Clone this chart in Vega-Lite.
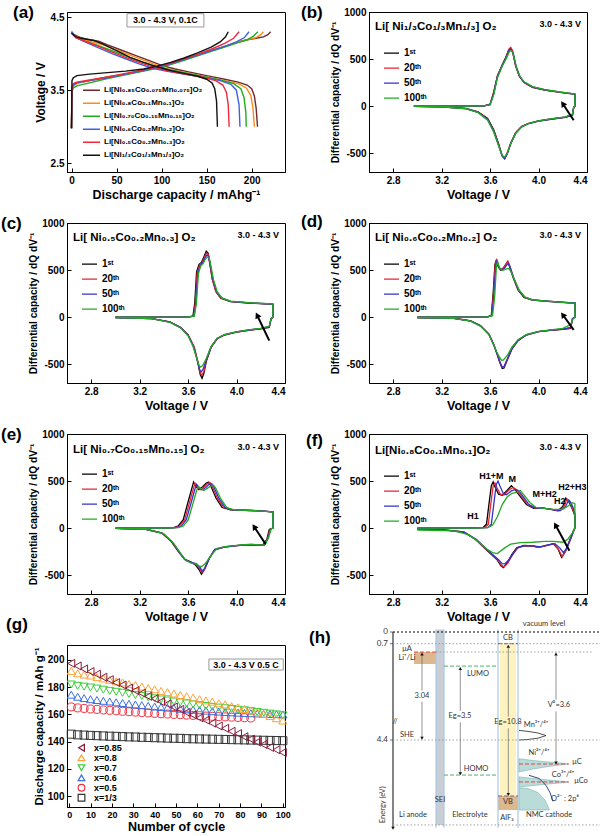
{
"$schema": "https://vega.github.io/schema/vega-lite/v6.json",
"padding": {"left": 0, "top": 3, "right": 0, "bottom": 0},
"background": "white",
"config": {
 "font": "Liberation Sans, Arial, sans-serif",
 "view": {"stroke": "#000", "strokeWidth": 1},
 "axis": {"grid": false, "domainColor": "#000", "tickColor": "#000", "labelColor": "#000", "titleColor": "#000", "labelFontSize": 10, "labelFontWeight": "bold", "titleFontSize": 12.5, "titleFontWeight": "bold", "tickSize": -4, "labelPadding": 7, "titlePadding": 3, "labelOverlap": false},
 "legend": {"labelFontWeight": "bold", "labelColor": "#000"},
 "text": {"color": "#000"},
 "line": {"strokeWidth": 1.3}
},
"datasets": {
 "a": [
  {"m":"0.85","b":"c","x":0,"y":2.98},{"m":"0.85","b":"c","x":0.5,"y":3.5},{"m":"0.85","b":"c","x":2,"y":3.57},{"m":"0.85","b":"c","x":6,"y":3.6},{"m":"0.85","b":"c","x":20,"y":3.63},{"m":"0.85","b":"c","x":40,"y":3.68},{"m":"0.85","b":"c","x":60,"y":3.72},{"m":"0.85","b":"c","x":80,"y":3.77},{"m":"0.85","b":"c","x":95,"y":3.81},{"m":"0.85","b":"c","x":110,"y":3.86},{"m":"0.85","b":"c","x":125,"y":3.92},{"m":"0.85","b":"c","x":140,"y":3.98},{"m":"0.85","b":"c","x":155,"y":4.04},{"m":"0.85","b":"c","x":170,"y":4.1},{"m":"0.85","b":"c","x":185,"y":4.16},{"m":"0.85","b":"c","x":195,"y":4.19},{"m":"0.85","b":"c","x":205,"y":4.21},{"m":"0.85","b":"c","x":213,"y":4.23},{"m":"0.85","b":"c","x":218,"y":4.26},{"m":"0.85","b":"c","x":221,"y":4.3},
  {"m":"0.85","b":"d","x":0,"y":4.3},{"m":"0.85","b":"d","x":3,"y":4.26},{"m":"0.85","b":"d","x":10,"y":4.22},{"m":"0.85","b":"d","x":20,"y":4.19},{"m":"0.85","b":"d","x":30,"y":4.17},{"m":"0.85","b":"d","x":40,"y":4.12},{"m":"0.85","b":"d","x":55,"y":4.05},{"m":"0.85","b":"d","x":70,"y":3.98},{"m":"0.85","b":"d","x":85,"y":3.91},{"m":"0.85","b":"d","x":100,"y":3.84},{"m":"0.85","b":"d","x":115,"y":3.79},{"m":"0.85","b":"d","x":130,"y":3.75},{"m":"0.85","b":"d","x":150,"y":3.7},{"m":"0.85","b":"d","x":170,"y":3.65},{"m":"0.85","b":"d","x":185,"y":3.61},{"m":"0.85","b":"d","x":195,"y":3.57},{"m":"0.85","b":"d","x":200,"y":3.52},{"m":"0.85","b":"d","x":203,"y":3.42},{"m":"0.85","b":"d","x":205,"y":3.25},{"m":"0.85","b":"d","x":206.5,"y":3.0},
  {"m":"0.8","b":"c","x":0,"y":2.98},{"m":"0.8","b":"c","x":0.5,"y":3.5},{"m":"0.8","b":"c","x":2,"y":3.56},{"m":"0.8","b":"c","x":6,"y":3.59},{"m":"0.8","b":"c","x":20,"y":3.63},{"m":"0.8","b":"c","x":40,"y":3.68},{"m":"0.8","b":"c","x":60,"y":3.72},{"m":"0.8","b":"c","x":80,"y":3.77},{"m":"0.8","b":"c","x":95,"y":3.81},{"m":"0.8","b":"c","x":110,"y":3.86},{"m":"0.8","b":"c","x":125,"y":3.92},{"m":"0.8","b":"c","x":140,"y":3.98},{"m":"0.8","b":"c","x":155,"y":4.04},{"m":"0.8","b":"c","x":170,"y":4.1},{"m":"0.8","b":"c","x":185,"y":4.16},{"m":"0.8","b":"c","x":195,"y":4.19},{"m":"0.8","b":"c","x":205,"y":4.22},{"m":"0.8","b":"c","x":210,"y":4.26},{"m":"0.8","b":"c","x":213,"y":4.3},
  {"m":"0.8","b":"d","x":0,"y":4.29},{"m":"0.8","b":"d","x":3,"y":4.25},{"m":"0.8","b":"d","x":10,"y":4.21},{"m":"0.8","b":"d","x":20,"y":4.17},{"m":"0.8","b":"d","x":35,"y":4.12},{"m":"0.8","b":"d","x":50,"y":4.05},{"m":"0.8","b":"d","x":65,"y":3.98},{"m":"0.8","b":"d","x":80,"y":3.91},{"m":"0.8","b":"d","x":95,"y":3.84},{"m":"0.8","b":"d","x":110,"y":3.78},{"m":"0.8","b":"d","x":130,"y":3.73},{"m":"0.8","b":"d","x":150,"y":3.68},{"m":"0.8","b":"d","x":170,"y":3.63},{"m":"0.8","b":"d","x":185,"y":3.59},{"m":"0.8","b":"d","x":194,"y":3.53},{"m":"0.8","b":"d","x":199,"y":3.43},{"m":"0.8","b":"d","x":201.5,"y":3.25},{"m":"0.8","b":"d","x":203,"y":3.0},
  {"m":"0.7","b":"c","x":0,"y":2.98},{"m":"0.7","b":"c","x":0.5,"y":3.48},{"m":"0.7","b":"c","x":2,"y":3.53},{"m":"0.7","b":"c","x":6,"y":3.56},{"m":"0.7","b":"c","x":20,"y":3.6},{"m":"0.7","b":"c","x":40,"y":3.66},{"m":"0.7","b":"c","x":60,"y":3.71},{"m":"0.7","b":"c","x":80,"y":3.76},{"m":"0.7","b":"c","x":95,"y":3.8},{"m":"0.7","b":"c","x":110,"y":3.85},{"m":"0.7","b":"c","x":125,"y":3.91},{"m":"0.7","b":"c","x":140,"y":3.97},{"m":"0.7","b":"c","x":155,"y":4.03},{"m":"0.7","b":"c","x":170,"y":4.09},{"m":"0.7","b":"c","x":185,"y":4.15},{"m":"0.7","b":"c","x":195,"y":4.19},{"m":"0.7","b":"c","x":202,"y":4.24},{"m":"0.7","b":"c","x":207,"y":4.3},
  {"m":"0.7","b":"d","x":0,"y":4.29},{"m":"0.7","b":"d","x":5,"y":4.22},{"m":"0.7","b":"d","x":15,"y":4.17},{"m":"0.7","b":"d","x":30,"y":4.11},{"m":"0.7","b":"d","x":45,"y":4.04},{"m":"0.7","b":"d","x":60,"y":3.97},{"m":"0.7","b":"d","x":75,"y":3.9},{"m":"0.7","b":"d","x":90,"y":3.84},{"m":"0.7","b":"d","x":105,"y":3.79},{"m":"0.7","b":"d","x":125,"y":3.74},{"m":"0.7","b":"d","x":145,"y":3.69},{"m":"0.7","b":"d","x":165,"y":3.64},{"m":"0.7","b":"d","x":180,"y":3.59},{"m":"0.7","b":"d","x":188,"y":3.52},{"m":"0.7","b":"d","x":191.5,"y":3.4},{"m":"0.7","b":"d","x":193.5,"y":3.2},{"m":"0.7","b":"d","x":194,"y":3.0},
  {"m":"0.6","b":"c","x":0,"y":2.98},{"m":"0.6","b":"c","x":0.5,"y":3.52},{"m":"0.6","b":"c","x":2,"y":3.57},{"m":"0.6","b":"c","x":6,"y":3.6},{"m":"0.6","b":"c","x":20,"y":3.63},{"m":"0.6","b":"c","x":40,"y":3.67},{"m":"0.6","b":"c","x":60,"y":3.72},{"m":"0.6","b":"c","x":80,"y":3.77},{"m":"0.6","b":"c","x":95,"y":3.81},{"m":"0.6","b":"c","x":110,"y":3.86},{"m":"0.6","b":"c","x":125,"y":3.92},{"m":"0.6","b":"c","x":140,"y":3.98},{"m":"0.6","b":"c","x":155,"y":4.04},{"m":"0.6","b":"c","x":170,"y":4.1},{"m":"0.6","b":"c","x":183,"y":4.16},{"m":"0.6","b":"c","x":192,"y":4.22},{"m":"0.6","b":"c","x":197,"y":4.3},
  {"m":"0.6","b":"d","x":0,"y":4.3},{"m":"0.6","b":"d","x":5,"y":4.22},{"m":"0.6","b":"d","x":15,"y":4.16},{"m":"0.6","b":"d","x":30,"y":4.08},{"m":"0.6","b":"d","x":45,"y":4.0},{"m":"0.6","b":"d","x":60,"y":3.93},{"m":"0.6","b":"d","x":75,"y":3.86},{"m":"0.6","b":"d","x":90,"y":3.8},{"m":"0.6","b":"d","x":105,"y":3.76},{"m":"0.6","b":"d","x":125,"y":3.72},{"m":"0.6","b":"d","x":145,"y":3.68},{"m":"0.6","b":"d","x":165,"y":3.63},{"m":"0.6","b":"d","x":177,"y":3.58},{"m":"0.6","b":"d","x":183,"y":3.5},{"m":"0.6","b":"d","x":186,"y":3.3},{"m":"0.6","b":"d","x":187,"y":3.0},
  {"m":"0.5","b":"c","x":0,"y":2.98},{"m":"0.5","b":"c","x":0.5,"y":3.54},{"m":"0.5","b":"c","x":2,"y":3.59},{"m":"0.5","b":"c","x":6,"y":3.61},{"m":"0.5","b":"c","x":20,"y":3.64},{"m":"0.5","b":"c","x":40,"y":3.68},{"m":"0.5","b":"c","x":60,"y":3.73},{"m":"0.5","b":"c","x":80,"y":3.78},{"m":"0.5","b":"c","x":95,"y":3.82},{"m":"0.5","b":"c","x":110,"y":3.87},{"m":"0.5","b":"c","x":125,"y":3.93},{"m":"0.5","b":"c","x":140,"y":3.99},{"m":"0.5","b":"c","x":155,"y":4.06},{"m":"0.5","b":"c","x":170,"y":4.14},{"m":"0.5","b":"c","x":180,"y":4.21},{"m":"0.5","b":"c","x":186,"y":4.3},
  {"m":"0.5","b":"d","x":0,"y":4.28},{"m":"0.5","b":"d","x":5,"y":4.22},{"m":"0.5","b":"d","x":15,"y":4.17},{"m":"0.5","b":"d","x":30,"y":4.1},{"m":"0.5","b":"d","x":45,"y":4.02},{"m":"0.5","b":"d","x":60,"y":3.95},{"m":"0.5","b":"d","x":75,"y":3.88},{"m":"0.5","b":"d","x":90,"y":3.82},{"m":"0.5","b":"d","x":105,"y":3.77},{"m":"0.5","b":"d","x":125,"y":3.72},{"m":"0.5","b":"d","x":145,"y":3.68},{"m":"0.5","b":"d","x":160,"y":3.63},{"m":"0.5","b":"d","x":168,"y":3.57},{"m":"0.5","b":"d","x":172,"y":3.47},{"m":"0.5","b":"d","x":174,"y":3.3},{"m":"0.5","b":"d","x":175,"y":3.0},
  {"m":"1/3","b":"c","x":0,"y":2.98},{"m":"1/3","b":"c","x":0.5,"y":3.63},{"m":"1/3","b":"c","x":2,"y":3.67},{"m":"1/3","b":"c","x":6,"y":3.7},{"m":"1/3","b":"c","x":20,"y":3.72},{"m":"1/3","b":"c","x":40,"y":3.74},{"m":"1/3","b":"c","x":60,"y":3.76},{"m":"1/3","b":"c","x":80,"y":3.79},{"m":"1/3","b":"c","x":95,"y":3.83},{"m":"1/3","b":"c","x":110,"y":3.88},{"m":"1/3","b":"c","x":125,"y":3.94},{"m":"1/3","b":"c","x":140,"y":4.01},{"m":"1/3","b":"c","x":155,"y":4.09},{"m":"1/3","b":"c","x":165,"y":4.16},{"m":"1/3","b":"c","x":171,"y":4.23},{"m":"1/3","b":"c","x":174,"y":4.3},
  {"m":"1/3","b":"d","x":0,"y":4.28},{"m":"1/3","b":"d","x":5,"y":4.23},{"m":"1/3","b":"d","x":15,"y":4.2},{"m":"1/3","b":"d","x":25,"y":4.18},{"m":"1/3","b":"d","x":35,"y":4.13},{"m":"1/3","b":"d","x":50,"y":4.04},{"m":"1/3","b":"d","x":65,"y":3.95},{"m":"1/3","b":"d","x":80,"y":3.88},{"m":"1/3","b":"d","x":95,"y":3.82},{"m":"1/3","b":"d","x":110,"y":3.77},{"m":"1/3","b":"d","x":125,"y":3.73},{"m":"1/3","b":"d","x":140,"y":3.69},{"m":"1/3","b":"d","x":150,"y":3.65},{"m":"1/3","b":"d","x":156,"y":3.6},{"m":"1/3","b":"d","x":159,"y":3.52},{"m":"1/3","b":"d","x":161,"y":3.35},{"m":"1/3","b":"d","x":162,"y":3.0}
 ],
 "b": [
  {"c":"1st","v":2.97,"q":0},{"c":"1st","v":3.4,"q":0},{"c":"1st","v":3.55,"q":3},{"c":"1st","v":3.6,"q":20},{"c":"1st","v":3.63,"q":150},{"c":"1st","v":3.66,"q":320},{"c":"1st","v":3.7,"q":440},{"c":"1st","v":3.73,"q":520},{"c":"1st","v":3.755,"q":600},{"c":"1st","v":3.77,"q":615},{"c":"1st","v":3.785,"q":580},{"c":"1st","v":3.81,"q":430},{"c":"1st","v":3.84,"q":320},{"c":"1st","v":3.88,"q":250},{"c":"1st","v":3.95,"q":200},{"c":"1st","v":4.05,"q":170},{"c":"1st","v":4.18,"q":145},{"c":"1st","v":4.29,"q":128},{"c":"1st","v":4.3,"q":125},{"c":"1st","v":4.3,"q":0},{"c":"1st","v":4.29,"q":-15},{"c":"1st","v":4.28,"q":-100},{"c":"1st","v":4.22,"q":-120},{"c":"1st","v":4.1,"q":-140},{"c":"1st","v":4.0,"q":-160},{"c":"1st","v":3.92,"q":-185},{"c":"1st","v":3.86,"q":-220},{"c":"1st","v":3.81,"q":-290},{"c":"1st","v":3.77,"q":-400},{"c":"1st","v":3.74,"q":-510},{"c":"1st","v":3.72,"q":-560},{"c":"1st","v":3.7,"q":-530},{"c":"1st","v":3.67,"q":-400},{"c":"1st","v":3.63,"q":-250},{"c":"1st","v":3.58,"q":-130},{"c":"1st","v":3.5,"q":-60},{"c":"1st","v":3.4,"q":-25},{"c":"1st","v":3.2,"q":-8},{"c":"1st","v":2.98,"q":-3},
  {"c":"20th","v":2.97,"q":0},{"c":"20th","v":3.4,"q":0},{"c":"20th","v":3.55,"q":3},{"c":"20th","v":3.6,"q":18},{"c":"20th","v":3.63,"q":140},{"c":"20th","v":3.66,"q":315},{"c":"20th","v":3.7,"q":435},{"c":"20th","v":3.73,"q":515},{"c":"20th","v":3.755,"q":605},{"c":"20th","v":3.77,"q":625},{"c":"20th","v":3.785,"q":590},{"c":"20th","v":3.81,"q":435},{"c":"20th","v":3.84,"q":322},{"c":"20th","v":3.88,"q":252},{"c":"20th","v":3.95,"q":202},{"c":"20th","v":4.05,"q":172},{"c":"20th","v":4.18,"q":146},{"c":"20th","v":4.29,"q":129},{"c":"20th","v":4.3,"q":126},{"c":"20th","v":4.3,"q":0},{"c":"20th","v":4.29,"q":-12},{"c":"20th","v":4.28,"q":-95},{"c":"20th","v":4.22,"q":-118},{"c":"20th","v":4.1,"q":-138},{"c":"20th","v":4.0,"q":-158},{"c":"20th","v":3.92,"q":-182},{"c":"20th","v":3.86,"q":-215},{"c":"20th","v":3.81,"q":-282},{"c":"20th","v":3.77,"q":-392},{"c":"20th","v":3.74,"q":-500},{"c":"20th","v":3.72,"q":-548},{"c":"20th","v":3.7,"q":-528},{"c":"20th","v":3.67,"q":-410},{"c":"20th","v":3.63,"q":-262},{"c":"20th","v":3.58,"q":-140},{"c":"20th","v":3.5,"q":-64},{"c":"20th","v":3.4,"q":-26},{"c":"20th","v":3.2,"q":-8},{"c":"20th","v":2.98,"q":-3},
  {"c":"50th","v":2.97,"q":0},{"c":"50th","v":3.4,"q":0},{"c":"50th","v":3.55,"q":3},{"c":"50th","v":3.6,"q":16},{"c":"50th","v":3.63,"q":130},{"c":"50th","v":3.66,"q":310},{"c":"50th","v":3.7,"q":430},{"c":"50th","v":3.73,"q":510},{"c":"50th","v":3.755,"q":590},{"c":"50th","v":3.772,"q":600},{"c":"50th","v":3.79,"q":565},{"c":"50th","v":3.815,"q":420},{"c":"50th","v":3.845,"q":315},{"c":"50th","v":3.88,"q":255},{"c":"50th","v":3.95,"q":205},{"c":"50th","v":4.05,"q":174},{"c":"50th","v":4.18,"q":148},{"c":"50th","v":4.29,"q":130},{"c":"50th","v":4.3,"q":127},{"c":"50th","v":4.3,"q":0},{"c":"50th","v":4.29,"q":-10},{"c":"50th","v":4.28,"q":-90},{"c":"50th","v":4.22,"q":-116},{"c":"50th","v":4.1,"q":-137},{"c":"50th","v":4.0,"q":-157},{"c":"50th","v":3.92,"q":-182},{"c":"50th","v":3.86,"q":-218},{"c":"50th","v":3.81,"q":-288},{"c":"50th","v":3.77,"q":-398},{"c":"50th","v":3.74,"q":-510},{"c":"50th","v":3.72,"q":-555},{"c":"50th","v":3.7,"q":-532},{"c":"50th","v":3.67,"q":-418},{"c":"50th","v":3.63,"q":-270},{"c":"50th","v":3.58,"q":-145},{"c":"50th","v":3.5,"q":-66},{"c":"50th","v":3.4,"q":-27},{"c":"50th","v":3.2,"q":-8},{"c":"50th","v":2.98,"q":-3},
  {"c":"100th","v":2.97,"q":0},{"c":"100th","v":3.4,"q":0},{"c":"100th","v":3.55,"q":2},{"c":"100th","v":3.6,"q":14},{"c":"100th","v":3.63,"q":120},{"c":"100th","v":3.66,"q":300},{"c":"100th","v":3.7,"q":425},{"c":"100th","v":3.735,"q":510},{"c":"100th","v":3.76,"q":580},{"c":"100th","v":3.775,"q":590},{"c":"100th","v":3.79,"q":560},{"c":"100th","v":3.815,"q":425},{"c":"100th","v":3.845,"q":318},{"c":"100th","v":3.88,"q":258},{"c":"100th","v":3.95,"q":208},{"c":"100th","v":4.05,"q":176},{"c":"100th","v":4.18,"q":150},{"c":"100th","v":4.29,"q":131},{"c":"100th","v":4.3,"q":128},{"c":"100th","v":4.3,"q":0},{"c":"100th","v":4.29,"q":-8},{"c":"100th","v":4.28,"q":-85},{"c":"100th","v":4.22,"q":-114},{"c":"100th","v":4.1,"q":-136},{"c":"100th","v":4.0,"q":-156},{"c":"100th","v":3.92,"q":-182},{"c":"100th","v":3.86,"q":-220},{"c":"100th","v":3.81,"q":-290},{"c":"100th","v":3.77,"q":-400},{"c":"100th","v":3.74,"q":-505},{"c":"100th","v":3.72,"q":-542},{"c":"100th","v":3.7,"q":-525},{"c":"100th","v":3.67,"q":-420},{"c":"100th","v":3.63,"q":-275},{"c":"100th","v":3.58,"q":-150},{"c":"100th","v":3.5,"q":-68},{"c":"100th","v":3.4,"q":-28},{"c":"100th","v":3.2,"q":-9},{"c":"100th","v":2.98,"q":-3}
 ],
 "c": [
  {"c":"1st","v":3.0,"q":0},{"c":"1st","v":3.4,"q":0},{"c":"1st","v":3.6,"q":2},{"c":"1st","v":3.64,"q":10},{"c":"1st","v":3.655,"q":150},{"c":"1st","v":3.67,"q":480},{"c":"1st","v":3.69,"q":560},{"c":"1st","v":3.71,"q":580},{"c":"1st","v":3.73,"q":640},{"c":"1st","v":3.75,"q":700},{"c":"1st","v":3.765,"q":680},{"c":"1st","v":3.78,"q":560},{"c":"1st","v":3.8,"q":400},{"c":"1st","v":3.83,"q":270},{"c":"1st","v":3.87,"q":200},{"c":"1st","v":3.95,"q":165},{"c":"1st","v":4.1,"q":150},{"c":"1st","v":4.25,"q":140},{"c":"1st","v":4.3,"q":135},{"c":"1st","v":4.3,"q":0},{"c":"1st","v":4.285,"q":-20},{"c":"1st","v":4.27,"q":-110},{"c":"1st","v":4.2,"q":-125},{"c":"1st","v":4.1,"q":-140},{"c":"1st","v":4.0,"q":-160},{"c":"1st","v":3.9,"q":-190},{"c":"1st","v":3.84,"q":-230},{"c":"1st","v":3.79,"q":-320},{"c":"1st","v":3.75,"q":-470},{"c":"1st","v":3.73,"q":-600},{"c":"1st","v":3.715,"q":-650},{"c":"1st","v":3.7,"q":-610},{"c":"1st","v":3.68,"q":-480},{"c":"1st","v":3.65,"q":-320},{"c":"1st","v":3.6,"q":-190},{"c":"1st","v":3.54,"q":-110},{"c":"1st","v":3.45,"q":-50},{"c":"1st","v":3.3,"q":-15},{"c":"1st","v":3.0,"q":-5},
  {"c":"20th","v":3.0,"q":0},{"c":"20th","v":3.4,"q":0},{"c":"20th","v":3.6,"q":2},{"c":"20th","v":3.645,"q":10},{"c":"20th","v":3.66,"q":150},{"c":"20th","v":3.675,"q":475},{"c":"20th","v":3.695,"q":555},{"c":"20th","v":3.715,"q":578},{"c":"20th","v":3.735,"q":635},{"c":"20th","v":3.752,"q":680},{"c":"20th","v":3.767,"q":665},{"c":"20th","v":3.782,"q":550},{"c":"20th","v":3.8,"q":400},{"c":"20th","v":3.83,"q":272},{"c":"20th","v":3.87,"q":202},{"c":"20th","v":3.95,"q":167},{"c":"20th","v":4.1,"q":151},{"c":"20th","v":4.25,"q":141},{"c":"20th","v":4.3,"q":136},{"c":"20th","v":4.3,"q":0},{"c":"20th","v":4.285,"q":-18},{"c":"20th","v":4.27,"q":-105},{"c":"20th","v":4.2,"q":-123},{"c":"20th","v":4.1,"q":-138},{"c":"20th","v":4.0,"q":-158},{"c":"20th","v":3.9,"q":-188},{"c":"20th","v":3.84,"q":-228},{"c":"20th","v":3.79,"q":-318},{"c":"20th","v":3.75,"q":-460},{"c":"20th","v":3.73,"q":-580},{"c":"20th","v":3.712,"q":-618},{"c":"20th","v":3.7,"q":-590},{"c":"20th","v":3.68,"q":-470},{"c":"20th","v":3.65,"q":-318},{"c":"20th","v":3.6,"q":-192},{"c":"20th","v":3.54,"q":-112},{"c":"20th","v":3.45,"q":-52},{"c":"20th","v":3.3,"q":-16},{"c":"20th","v":3.0,"q":-5},
  {"c":"50th","v":3.0,"q":0},{"c":"50th","v":3.4,"q":0},{"c":"50th","v":3.6,"q":2},{"c":"50th","v":3.65,"q":10},{"c":"50th","v":3.665,"q":150},{"c":"50th","v":3.68,"q":470},{"c":"50th","v":3.7,"q":550},{"c":"50th","v":3.72,"q":575},{"c":"50th","v":3.74,"q":630},{"c":"50th","v":3.755,"q":660},{"c":"50th","v":3.77,"q":650},{"c":"50th","v":3.785,"q":545},{"c":"50th","v":3.805,"q":400},{"c":"50th","v":3.835,"q":272},{"c":"50th","v":3.875,"q":203},{"c":"50th","v":3.95,"q":168},{"c":"50th","v":4.1,"q":152},{"c":"50th","v":4.25,"q":142},{"c":"50th","v":4.3,"q":137},{"c":"50th","v":4.3,"q":0},{"c":"50th","v":4.285,"q":-16},{"c":"50th","v":4.27,"q":-100},{"c":"50th","v":4.2,"q":-121},{"c":"50th","v":4.1,"q":-137},{"c":"50th","v":4.0,"q":-157},{"c":"50th","v":3.9,"q":-187},{"c":"50th","v":3.84,"q":-226},{"c":"50th","v":3.79,"q":-315},{"c":"50th","v":3.75,"q":-450},{"c":"50th","v":3.725,"q":-550},{"c":"50th","v":3.708,"q":-582},{"c":"50th","v":3.695,"q":-560},{"c":"50th","v":3.675,"q":-455},{"c":"50th","v":3.645,"q":-315},{"c":"50th","v":3.6,"q":-195},{"c":"50th","v":3.54,"q":-114},{"c":"50th","v":3.45,"q":-53},{"c":"50th","v":3.3,"q":-16},{"c":"50th","v":3.0,"q":-5},
  {"c":"100th","v":3.0,"q":0},{"c":"100th","v":3.4,"q":0},{"c":"100th","v":3.6,"q":2},{"c":"100th","v":3.65,"q":8},{"c":"100th","v":3.668,"q":140},{"c":"100th","v":3.685,"q":460},{"c":"100th","v":3.705,"q":545},{"c":"100th","v":3.725,"q":570},{"c":"100th","v":3.745,"q":620},{"c":"100th","v":3.76,"q":640},{"c":"100th","v":3.775,"q":630},{"c":"100th","v":3.79,"q":530},{"c":"100th","v":3.81,"q":395},{"c":"100th","v":3.84,"q":270},{"c":"100th","v":3.88,"q":204},{"c":"100th","v":3.95,"q":169},{"c":"100th","v":4.1,"q":153},{"c":"100th","v":4.25,"q":143},{"c":"100th","v":4.3,"q":138},{"c":"100th","v":4.3,"q":0},{"c":"100th","v":4.285,"q":-14},{"c":"100th","v":4.27,"q":-95},{"c":"100th","v":4.2,"q":-120},{"c":"100th","v":4.1,"q":-136},{"c":"100th","v":4.0,"q":-156},{"c":"100th","v":3.9,"q":-186},{"c":"100th","v":3.84,"q":-224},{"c":"100th","v":3.79,"q":-310},{"c":"100th","v":3.75,"q":-440},{"c":"100th","v":3.72,"q":-515},{"c":"100th","v":3.703,"q":-532},{"c":"100th","v":3.69,"q":-510},{"c":"100th","v":3.67,"q":-430},{"c":"100th","v":3.64,"q":-310},{"c":"100th","v":3.6,"q":-198},{"c":"100th","v":3.54,"q":-116},{"c":"100th","v":3.45,"q":-55},{"c":"100th","v":3.3,"q":-17},{"c":"100th","v":3.0,"q":-5}
 ],
 "d": [
  {"c":"1st","v":3.0,"q":0},{"c":"1st","v":3.4,"q":0},{"c":"1st","v":3.58,"q":3},{"c":"1st","v":3.61,"q":20},{"c":"1st","v":3.625,"q":250},{"c":"1st","v":3.64,"q":560},{"c":"1st","v":3.65,"q":600},{"c":"1st","v":3.665,"q":540},{"c":"1st","v":3.685,"q":500},{"c":"1st","v":3.71,"q":520},{"c":"1st","v":3.73,"q":560},{"c":"1st","v":3.745,"q":590},{"c":"1st","v":3.76,"q":540},{"c":"1st","v":3.79,"q":420},{"c":"1st","v":3.83,"q":290},{"c":"1st","v":3.88,"q":210},{"c":"1st","v":3.95,"q":180},{"c":"1st","v":4.1,"q":165},{"c":"1st","v":4.25,"q":152},{"c":"1st","v":4.3,"q":150},{"c":"1st","v":4.3,"q":0},{"c":"1st","v":4.28,"q":-20},{"c":"1st","v":4.265,"q":-120},{"c":"1st","v":4.2,"q":-130},{"c":"1st","v":4.1,"q":-140},{"c":"1st","v":4.0,"q":-155},{"c":"1st","v":3.9,"q":-190},{"c":"1st","v":3.83,"q":-250},{"c":"1st","v":3.78,"q":-340},{"c":"1st","v":3.74,"q":-460},{"c":"1st","v":3.715,"q":-540},{"c":"1st","v":3.7,"q":-545},{"c":"1st","v":3.68,"q":-480},{"c":"1st","v":3.66,"q":-400},{"c":"1st","v":3.63,"q":-290},{"c":"1st","v":3.59,"q":-180},{"c":"1st","v":3.52,"q":-90},{"c":"1st","v":3.44,"q":-40},{"c":"1st","v":3.3,"q":-12},{"c":"1st","v":3.0,"q":-5},
  {"c":"20th","v":3.0,"q":0},{"c":"20th","v":3.4,"q":0},{"c":"20th","v":3.58,"q":3},{"c":"20th","v":3.612,"q":20},{"c":"20th","v":3.628,"q":250},{"c":"20th","v":3.643,"q":560},{"c":"20th","v":3.653,"q":605},{"c":"20th","v":3.668,"q":545},{"c":"20th","v":3.688,"q":505},{"c":"20th","v":3.712,"q":525},{"c":"20th","v":3.732,"q":565},{"c":"20th","v":3.747,"q":595},{"c":"20th","v":3.762,"q":545},{"c":"20th","v":3.792,"q":422},{"c":"20th","v":3.832,"q":292},{"c":"20th","v":3.882,"q":212},{"c":"20th","v":3.95,"q":182},{"c":"20th","v":4.1,"q":167},{"c":"20th","v":4.25,"q":154},{"c":"20th","v":4.3,"q":151},{"c":"20th","v":4.3,"q":0},{"c":"20th","v":4.28,"q":-18},{"c":"20th","v":4.265,"q":-115},{"c":"20th","v":4.2,"q":-128},{"c":"20th","v":4.1,"q":-139},{"c":"20th","v":4.0,"q":-154},{"c":"20th","v":3.9,"q":-188},{"c":"20th","v":3.83,"q":-248},{"c":"20th","v":3.78,"q":-338},{"c":"20th","v":3.74,"q":-455},{"c":"20th","v":3.715,"q":-530},{"c":"20th","v":3.7,"q":-535},{"c":"20th","v":3.68,"q":-478},{"c":"20th","v":3.66,"q":-400},{"c":"20th","v":3.63,"q":-292},{"c":"20th","v":3.59,"q":-182},{"c":"20th","v":3.52,"q":-92},{"c":"20th","v":3.44,"q":-41},{"c":"20th","v":3.3,"q":-12},{"c":"20th","v":3.0,"q":-5},
  {"c":"50th","v":3.0,"q":0},{"c":"50th","v":3.4,"q":0},{"c":"50th","v":3.58,"q":3},{"c":"50th","v":3.615,"q":18},{"c":"50th","v":3.632,"q":240},{"c":"50th","v":3.647,"q":555},{"c":"50th","v":3.657,"q":598},{"c":"50th","v":3.672,"q":535},{"c":"50th","v":3.692,"q":500},{"c":"50th","v":3.715,"q":515},{"c":"50th","v":3.735,"q":550},{"c":"50th","v":3.75,"q":570},{"c":"50th","v":3.765,"q":530},{"c":"50th","v":3.795,"q":418},{"c":"50th","v":3.835,"q":292},{"c":"50th","v":3.885,"q":213},{"c":"50th","v":3.95,"q":183},{"c":"50th","v":4.1,"q":168},{"c":"50th","v":4.25,"q":155},{"c":"50th","v":4.3,"q":152},{"c":"50th","v":4.3,"q":0},{"c":"50th","v":4.28,"q":-16},{"c":"50th","v":4.265,"q":-110},{"c":"50th","v":4.2,"q":-127},{"c":"50th","v":4.1,"q":-138},{"c":"50th","v":4.0,"q":-153},{"c":"50th","v":3.9,"q":-187},{"c":"50th","v":3.83,"q":-246},{"c":"50th","v":3.78,"q":-335},{"c":"50th","v":3.74,"q":-450},{"c":"50th","v":3.715,"q":-525},{"c":"50th","v":3.7,"q":-530},{"c":"50th","v":3.68,"q":-476},{"c":"50th","v":3.66,"q":-400},{"c":"50th","v":3.63,"q":-294},{"c":"50th","v":3.59,"q":-184},{"c":"50th","v":3.52,"q":-93},{"c":"50th","v":3.44,"q":-42},{"c":"50th","v":3.3,"q":-13},{"c":"50th","v":3.0,"q":-5},
  {"c":"100th","v":3.0,"q":0},{"c":"100th","v":3.4,"q":0},{"c":"100th","v":3.58,"q":3},{"c":"100th","v":3.62,"q":15},{"c":"100th","v":3.638,"q":220},{"c":"100th","v":3.652,"q":540},{"c":"100th","v":3.662,"q":590},{"c":"100th","v":3.677,"q":520},{"c":"100th","v":3.697,"q":495},{"c":"100th","v":3.72,"q":505},{"c":"100th","v":3.74,"q":515},{"c":"100th","v":3.755,"q":515},{"c":"100th","v":3.77,"q":490},{"c":"100th","v":3.8,"q":400},{"c":"100th","v":3.84,"q":285},{"c":"100th","v":3.89,"q":212},{"c":"100th","v":3.95,"q":183},{"c":"100th","v":4.1,"q":167},{"c":"100th","v":4.25,"q":152},{"c":"100th","v":4.3,"q":148},{"c":"100th","v":4.3,"q":0},{"c":"100th","v":4.28,"q":-30},{"c":"100th","v":4.265,"q":-80},{"c":"100th","v":4.2,"q":-120},{"c":"100th","v":4.1,"q":-136},{"c":"100th","v":4.0,"q":-152},{"c":"100th","v":3.9,"q":-185},{"c":"100th","v":3.83,"q":-240},{"c":"100th","v":3.78,"q":-320},{"c":"100th","v":3.74,"q":-410},{"c":"100th","v":3.71,"q":-455},{"c":"100th","v":3.695,"q":-460},{"c":"100th","v":3.675,"q":-420},{"c":"100th","v":3.655,"q":-370},{"c":"100th","v":3.625,"q":-285},{"c":"100th","v":3.59,"q":-185},{"c":"100th","v":3.52,"q":-95},{"c":"100th","v":3.44,"q":-43},{"c":"100th","v":3.3,"q":-13},{"c":"100th","v":3.0,"q":-5}
 ],
 "e": [
  {"c":"1st","v":3.0,"q":0},{"c":"1st","v":3.4,"q":0},{"c":"1st","v":3.48,"q":5},{"c":"1st","v":3.52,"q":25},{"c":"1st","v":3.56,"q":90},{"c":"1st","v":3.6,"q":280},{"c":"1st","v":3.63,"q":420},{"c":"1st","v":3.645,"q":490},{"c":"1st","v":3.66,"q":450},{"c":"1st","v":3.69,"q":410},{"c":"1st","v":3.72,"q":440},{"c":"1st","v":3.75,"q":480},{"c":"1st","v":3.77,"q":490},{"c":"1st","v":3.79,"q":440},{"c":"1st","v":3.83,"q":320},{"c":"1st","v":3.88,"q":220},{"c":"1st","v":3.95,"q":195},{"c":"1st","v":4.05,"q":190},{"c":"1st","v":4.15,"q":185},{"c":"1st","v":4.22,"q":180},{"c":"1st","v":4.27,"q":175},{"c":"1st","v":4.3,"q":170},{"c":"1st","v":4.3,"q":0},{"c":"1st","v":4.27,"q":-15},{"c":"1st","v":4.25,"q":-120},{"c":"1st","v":4.22,"q":-175},{"c":"1st","v":4.18,"q":-180},{"c":"1st","v":4.1,"q":-175},{"c":"1st","v":4.0,"q":-185},{"c":"1st","v":3.9,"q":-200},{"c":"1st","v":3.82,"q":-230},{"c":"1st","v":3.77,"q":-330},{"c":"1st","v":3.73,"q":-450},{"c":"1st","v":3.71,"q":-490},{"c":"1st","v":3.69,"q":-440},{"c":"1st","v":3.66,"q":-390},{"c":"1st","v":3.62,"q":-360},{"c":"1st","v":3.57,"q":-330},{"c":"1st","v":3.52,"q":-250},{"c":"1st","v":3.46,"q":-140},{"c":"1st","v":3.38,"q":-50},{"c":"1st","v":3.25,"q":-12},{"c":"1st","v":3.0,"q":-3},
  {"c":"20th","v":3.0,"q":0},{"c":"20th","v":3.4,"q":0},{"c":"20th","v":3.49,"q":5},{"c":"20th","v":3.53,"q":22},{"c":"20th","v":3.572,"q":90},{"c":"20th","v":3.612,"q":275},{"c":"20th","v":3.642,"q":415},{"c":"20th","v":3.657,"q":478},{"c":"20th","v":3.672,"q":445},{"c":"20th","v":3.702,"q":408},{"c":"20th","v":3.732,"q":438},{"c":"20th","v":3.762,"q":476},{"c":"20th","v":3.782,"q":482},{"c":"20th","v":3.802,"q":435},{"c":"20th","v":3.842,"q":318},{"c":"20th","v":3.892,"q":220},{"c":"20th","v":3.96,"q":195},{"c":"20th","v":4.06,"q":190},{"c":"20th","v":4.16,"q":185},{"c":"20th","v":4.225,"q":180},{"c":"20th","v":4.27,"q":176},{"c":"20th","v":4.3,"q":172},{"c":"20th","v":4.3,"q":0},{"c":"20th","v":4.275,"q":-15},{"c":"20th","v":4.255,"q":-115},{"c":"20th","v":4.225,"q":-178},{"c":"20th","v":4.185,"q":-182},{"c":"20th","v":4.1,"q":-176},{"c":"20th","v":4.0,"q":-186},{"c":"20th","v":3.9,"q":-201},{"c":"20th","v":3.82,"q":-228},{"c":"20th","v":3.775,"q":-320},{"c":"20th","v":3.735,"q":-440},{"c":"20th","v":3.712,"q":-470},{"c":"20th","v":3.695,"q":-428},{"c":"20th","v":3.665,"q":-385},{"c":"20th","v":3.625,"q":-362},{"c":"20th","v":3.575,"q":-335},{"c":"20th","v":3.525,"q":-255},{"c":"20th","v":3.465,"q":-145},{"c":"20th","v":3.385,"q":-52},{"c":"20th","v":3.25,"q":-12},{"c":"20th","v":3.0,"q":-3},
  {"c":"50th","v":3.0,"q":0},{"c":"50th","v":3.4,"q":0},{"c":"50th","v":3.5,"q":5},{"c":"50th","v":3.545,"q":22},{"c":"50th","v":3.585,"q":90},{"c":"50th","v":3.625,"q":270},{"c":"50th","v":3.655,"q":410},{"c":"50th","v":3.67,"q":465},{"c":"50th","v":3.685,"q":440},{"c":"50th","v":3.715,"q":405},{"c":"50th","v":3.745,"q":432},{"c":"50th","v":3.775,"q":468},{"c":"50th","v":3.795,"q":472},{"c":"50th","v":3.815,"q":430},{"c":"50th","v":3.855,"q":315},{"c":"50th","v":3.905,"q":220},{"c":"50th","v":3.97,"q":195},{"c":"50th","v":4.07,"q":190},{"c":"50th","v":4.17,"q":184},{"c":"50th","v":4.23,"q":180},{"c":"50th","v":4.275,"q":176},{"c":"50th","v":4.3,"q":172},{"c":"50th","v":4.3,"q":0},{"c":"50th","v":4.28,"q":-15},{"c":"50th","v":4.26,"q":-110},{"c":"50th","v":4.23,"q":-180},{"c":"50th","v":4.19,"q":-183},{"c":"50th","v":4.1,"q":-177},{"c":"50th","v":4.0,"q":-187},{"c":"50th","v":3.9,"q":-202},{"c":"50th","v":3.82,"q":-226},{"c":"50th","v":3.78,"q":-310},{"c":"50th","v":3.74,"q":-425},{"c":"50th","v":3.715,"q":-455},{"c":"50th","v":3.7,"q":-420},{"c":"50th","v":3.67,"q":-380},{"c":"50th","v":3.63,"q":-365},{"c":"50th","v":3.58,"q":-340},{"c":"50th","v":3.53,"q":-260},{"c":"50th","v":3.47,"q":-150},{"c":"50th","v":3.39,"q":-55},{"c":"50th","v":3.25,"q":-13},{"c":"50th","v":3.0,"q":-3},
  {"c":"100th","v":3.0,"q":0},{"c":"100th","v":3.4,"q":0},{"c":"100th","v":3.52,"q":5},{"c":"100th","v":3.56,"q":22},{"c":"100th","v":3.6,"q":85},{"c":"100th","v":3.64,"q":260},{"c":"100th","v":3.67,"q":400},{"c":"100th","v":3.685,"q":440},{"c":"100th","v":3.7,"q":425},{"c":"100th","v":3.73,"q":400},{"c":"100th","v":3.76,"q":425},{"c":"100th","v":3.79,"q":450},{"c":"100th","v":3.81,"q":455},{"c":"100th","v":3.83,"q":420},{"c":"100th","v":3.87,"q":310},{"c":"100th","v":3.92,"q":218},{"c":"100th","v":3.98,"q":195},{"c":"100th","v":4.08,"q":190},{"c":"100th","v":4.18,"q":183},{"c":"100th","v":4.24,"q":178},{"c":"100th","v":4.28,"q":172},{"c":"100th","v":4.3,"q":168},{"c":"100th","v":4.3,"q":0},{"c":"100th","v":4.285,"q":-10},{"c":"100th","v":4.265,"q":-100},{"c":"100th","v":4.235,"q":-175},{"c":"100th","v":4.2,"q":-180},{"c":"100th","v":4.12,"q":-170},{"c":"100th","v":4.02,"q":-180},{"c":"100th","v":3.92,"q":-195},{"c":"100th","v":3.84,"q":-215},{"c":"100th","v":3.79,"q":-290},{"c":"100th","v":3.74,"q":-380},{"c":"100th","v":3.71,"q":-410},{"c":"100th","v":3.69,"q":-400},{"c":"100th","v":3.66,"q":-380},{"c":"100th","v":3.62,"q":-370},{"c":"100th","v":3.58,"q":-345},{"c":"100th","v":3.54,"q":-270},{"c":"100th","v":3.48,"q":-160},{"c":"100th","v":3.4,"q":-60},{"c":"100th","v":3.26,"q":-14},{"c":"100th","v":3.0,"q":-3}
 ],
 "f": [
  {"c":"1st","v":3.0,"q":0},{"c":"1st","v":3.4,"q":0},{"c":"1st","v":3.54,"q":5},{"c":"1st","v":3.57,"q":40},{"c":"1st","v":3.59,"q":250},{"c":"1st","v":3.61,"q":450},{"c":"1st","v":3.625,"q":490},{"c":"1st","v":3.64,"q":440},{"c":"1st","v":3.67,"q":360},{"c":"1st","v":3.7,"q":350},{"c":"1st","v":3.74,"q":400},{"c":"1st","v":3.775,"q":450},{"c":"1st","v":3.8,"q":420},{"c":"1st","v":3.84,"q":350},{"c":"1st","v":3.9,"q":250},{"c":"1st","v":3.96,"q":210},{"c":"1st","v":4.03,"q":215},{"c":"1st","v":4.1,"q":200},{"c":"1st","v":4.16,"q":185},{"c":"1st","v":4.2,"q":230},{"c":"1st","v":4.225,"q":320},{"c":"1st","v":4.25,"q":280},{"c":"1st","v":4.28,"q":200},{"c":"1st","v":4.3,"q":130},{"c":"1st","v":4.3,"q":0},{"c":"1st","v":4.29,"q":-30},{"c":"1st","v":4.26,"q":-120},{"c":"1st","v":4.22,"q":-250},{"c":"1st","v":4.19,"q":-310},{"c":"1st","v":4.16,"q":-220},{"c":"1st","v":4.12,"q":-165},{"c":"1st","v":4.06,"q":-185},{"c":"1st","v":4.0,"q":-205},{"c":"1st","v":3.95,"q":-190},{"c":"1st","v":3.88,"q":-185},{"c":"1st","v":3.82,"q":-210},{"c":"1st","v":3.78,"q":-280},{"c":"1st","v":3.74,"q":-370},{"c":"1st","v":3.71,"q":-420},{"c":"1st","v":3.69,"q":-400},{"c":"1st","v":3.66,"q":-340},{"c":"1st","v":3.62,"q":-290},{"c":"1st","v":3.56,"q":-220},{"c":"1st","v":3.48,"q":-120},{"c":"1st","v":3.38,"q":-40},{"c":"1st","v":3.2,"q":-15},{"c":"1st","v":3.0,"q":-10},
  {"c":"20th","v":3.0,"q":0},{"c":"20th","v":3.4,"q":0},{"c":"20th","v":3.555,"q":5},{"c":"20th","v":3.585,"q":40},{"c":"20th","v":3.605,"q":250},{"c":"20th","v":3.625,"q":445},{"c":"20th","v":3.64,"q":480},{"c":"20th","v":3.655,"q":435},{"c":"20th","v":3.685,"q":360},{"c":"20th","v":3.715,"q":352},{"c":"20th","v":3.755,"q":405},{"c":"20th","v":3.79,"q":432},{"c":"20th","v":3.815,"q":410},{"c":"20th","v":3.855,"q":345},{"c":"20th","v":3.91,"q":250},{"c":"20th","v":3.97,"q":212},{"c":"20th","v":4.04,"q":212},{"c":"20th","v":4.11,"q":198},{"c":"20th","v":4.17,"q":185},{"c":"20th","v":4.21,"q":230},{"c":"20th","v":4.235,"q":310},{"c":"20th","v":4.26,"q":270},{"c":"20th","v":4.285,"q":190},{"c":"20th","v":4.3,"q":140},{"c":"20th","v":4.3,"q":0},{"c":"20th","v":4.29,"q":-25},{"c":"20th","v":4.265,"q":-110},{"c":"20th","v":4.225,"q":-240},{"c":"20th","v":4.195,"q":-305},{"c":"20th","v":4.165,"q":-225},{"c":"20th","v":4.125,"q":-168},{"c":"20th","v":4.065,"q":-186},{"c":"20th","v":4.005,"q":-205},{"c":"20th","v":3.955,"q":-190},{"c":"20th","v":3.885,"q":-186},{"c":"20th","v":3.825,"q":-212},{"c":"20th","v":3.785,"q":-285},{"c":"20th","v":3.745,"q":-375},{"c":"20th","v":3.715,"q":-412},{"c":"20th","v":3.695,"q":-395},{"c":"20th","v":3.665,"q":-340},{"c":"20th","v":3.625,"q":-292},{"c":"20th","v":3.565,"q":-222},{"c":"20th","v":3.485,"q":-122},{"c":"20th","v":3.385,"q":-42},{"c":"20th","v":3.2,"q":-15},{"c":"20th","v":3.0,"q":-10},
  {"c":"50th","v":3.0,"q":0},{"c":"50th","v":3.4,"q":0},{"c":"50th","v":3.58,"q":5},{"c":"50th","v":3.61,"q":40},{"c":"50th","v":3.63,"q":250},{"c":"50th","v":3.65,"q":460},{"c":"50th","v":3.665,"q":500},{"c":"50th","v":3.68,"q":450},{"c":"50th","v":3.71,"q":365},{"c":"50th","v":3.735,"q":355},{"c":"50th","v":3.775,"q":395},{"c":"50th","v":3.81,"q":412},{"c":"50th","v":3.835,"q":400},{"c":"50th","v":3.87,"q":340},{"c":"50th","v":3.92,"q":250},{"c":"50th","v":3.98,"q":212},{"c":"50th","v":4.05,"q":210},{"c":"50th","v":4.12,"q":196},{"c":"50th","v":4.18,"q":186},{"c":"50th","v":4.22,"q":225},{"c":"50th","v":4.25,"q":300},{"c":"50th","v":4.27,"q":265},{"c":"50th","v":4.29,"q":200},{"c":"50th","v":4.3,"q":160},{"c":"50th","v":4.3,"q":0},{"c":"50th","v":4.29,"q":-20},{"c":"50th","v":4.27,"q":-100},{"c":"50th","v":4.235,"q":-210},{"c":"50th","v":4.205,"q":-260},{"c":"50th","v":4.175,"q":-210},{"c":"50th","v":4.135,"q":-165},{"c":"50th","v":4.07,"q":-180},{"c":"50th","v":4.01,"q":-200},{"c":"50th","v":3.96,"q":-188},{"c":"50th","v":3.89,"q":-185},{"c":"50th","v":3.83,"q":-205},{"c":"50th","v":3.79,"q":-270},{"c":"50th","v":3.75,"q":-345},{"c":"50th","v":3.72,"q":-380},{"c":"50th","v":3.7,"q":-378},{"c":"50th","v":3.67,"q":-335},{"c":"50th","v":3.63,"q":-292},{"c":"50th","v":3.57,"q":-225},{"c":"50th","v":3.49,"q":-125},{"c":"50th","v":3.39,"q":-44},{"c":"50th","v":3.2,"q":-16},{"c":"50th","v":3.0,"q":-10},
  {"c":"100th","v":3.0,"q":0},{"c":"100th","v":3.45,"q":0},{"c":"100th","v":3.58,"q":5},{"c":"100th","v":3.62,"q":30},{"c":"100th","v":3.66,"q":120},{"c":"100th","v":3.7,"q":250},{"c":"100th","v":3.74,"q":330},{"c":"100th","v":3.78,"q":370},{"c":"100th","v":3.82,"q":380},{"c":"100th","v":3.85,"q":400},{"c":"100th","v":3.88,"q":350},{"c":"100th","v":3.93,"q":270},{"c":"100th","v":3.98,"q":220},{"c":"100th","v":4.05,"q":210},{"c":"100th","v":4.12,"q":200},{"c":"100th","v":4.2,"q":200},{"c":"100th","v":4.25,"q":240},{"c":"100th","v":4.28,"q":270},{"c":"100th","v":4.3,"q":260},{"c":"100th","v":4.3,"q":0},{"c":"100th","v":4.28,"q":-50},{"c":"100th","v":4.24,"q":-120},{"c":"100th","v":4.2,"q":-150},{"c":"100th","v":4.12,"q":-140},{"c":"100th","v":4.05,"q":-140},{"c":"100th","v":3.95,"q":-150},{"c":"100th","v":3.85,"q":-155},{"c":"100th","v":3.77,"q":-170},{"c":"100th","v":3.72,"q":-210},{"c":"100th","v":3.66,"q":-270},{"c":"100th","v":3.62,"q":-260},{"c":"100th","v":3.57,"q":-220},{"c":"100th","v":3.5,"q":-140},{"c":"100th","v":3.42,"q":-70},{"c":"100th","v":3.3,"q":-30},{"c":"100th","v":3.0,"q":-20}
 ],
 "g": [
  {"s":"1/3","n":1,"d":145.5},{"s":"1/3","n":4,"d":145.0},{"s":"1/3","n":7,"d":144.8},{"s":"1/3","n":10,"d":144.6},{"s":"1/3","n":13,"d":144.4},{"s":"1/3","n":16,"d":144.2},{"s":"1/3","n":19,"d":144.0},{"s":"1/3","n":22,"d":143.9},{"s":"1/3","n":25,"d":143.7},{"s":"1/3","n":28,"d":143.5},{"s":"1/3","n":31,"d":143.4},{"s":"1/3","n":34,"d":143.2},{"s":"1/3","n":37,"d":143.1},{"s":"1/3","n":40,"d":142.9},{"s":"1/3","n":43,"d":142.8},{"s":"1/3","n":46,"d":142.6},{"s":"1/3","n":49,"d":142.5},{"s":"1/3","n":52,"d":142.4},{"s":"1/3","n":55,"d":142.2},{"s":"1/3","n":58,"d":142.1},{"s":"1/3","n":61,"d":142.0},{"s":"1/3","n":64,"d":141.9},{"s":"1/3","n":67,"d":141.8},{"s":"1/3","n":70,"d":141.7},{"s":"1/3","n":73,"d":141.6},{"s":"1/3","n":76,"d":141.5},{"s":"1/3","n":79,"d":141.4},{"s":"1/3","n":82,"d":141.3},{"s":"1/3","n":85,"d":141.2},{"s":"1/3","n":88,"d":141.1},{"s":"1/3","n":91,"d":141.0},{"s":"1/3","n":94,"d":140.9},{"s":"1/3","n":97,"d":140.8},{"s":"1/3","n":100,"d":140.7},
  {"s":"0.5","n":1,"d":165.5},{"s":"0.5","n":4,"d":164.8},{"s":"0.5","n":7,"d":164.4},{"s":"0.5","n":10,"d":164.0},{"s":"0.5","n":13,"d":163.7},{"s":"0.5","n":16,"d":163.3},{"s":"0.5","n":19,"d":163.0},{"s":"0.5","n":22,"d":162.7},{"s":"0.5","n":25,"d":162.3},{"s":"0.5","n":28,"d":162.0},{"s":"0.5","n":31,"d":161.7},{"s":"0.5","n":34,"d":161.4},{"s":"0.5","n":37,"d":161.1},{"s":"0.5","n":40,"d":160.8},{"s":"0.5","n":43,"d":160.5},{"s":"0.5","n":46,"d":160.3},{"s":"0.5","n":49,"d":160.0},{"s":"0.5","n":52,"d":159.8},{"s":"0.5","n":55,"d":159.5},{"s":"0.5","n":58,"d":159.3},{"s":"0.5","n":61,"d":159.1},{"s":"0.5","n":64,"d":158.8},{"s":"0.5","n":67,"d":158.6},{"s":"0.5","n":70,"d":158.4},{"s":"0.5","n":73,"d":158.2},{"s":"0.5","n":76,"d":158.0},{"s":"0.5","n":79,"d":157.8},{"s":"0.5","n":82,"d":157.6},{"s":"0.5","n":85,"d":157.4},
  {"s":"0.6","n":1,"d":174.5},{"s":"0.6","n":4,"d":173.0},{"s":"0.6","n":7,"d":172.0},{"s":"0.6","n":10,"d":171.2},{"s":"0.6","n":13,"d":170.6},{"s":"0.6","n":16,"d":170.0},{"s":"0.6","n":19,"d":169.5},{"s":"0.6","n":22,"d":168.9},{"s":"0.6","n":25,"d":168.4},{"s":"0.6","n":28,"d":167.8},{"s":"0.6","n":31,"d":167.3},{"s":"0.6","n":34,"d":166.8},{"s":"0.6","n":37,"d":166.3},{"s":"0.6","n":40,"d":165.8},{"s":"0.6","n":43,"d":165.4},{"s":"0.6","n":46,"d":165.0},{"s":"0.6","n":49,"d":164.6},{"s":"0.6","n":52,"d":164.2},{"s":"0.6","n":55,"d":163.8},{"s":"0.6","n":58,"d":163.5},{"s":"0.6","n":61,"d":163.1},{"s":"0.6","n":64,"d":162.8},{"s":"0.6","n":67,"d":162.4},{"s":"0.6","n":70,"d":162.1},{"s":"0.6","n":73,"d":161.8},{"s":"0.6","n":76,"d":161.6},{"s":"0.6","n":79,"d":161.3},{"s":"0.6","n":82,"d":161.1},{"s":"0.6","n":85,"d":160.9},{"s":"0.6","n":88,"d":160.7},{"s":"0.6","n":91,"d":160.5},{"s":"0.6","n":94,"d":160.3},{"s":"0.6","n":97,"d":160.2},{"s":"0.6","n":100,"d":160.0},
  {"s":"0.7","n":1,"d":182.0},{"s":"0.7","n":4,"d":181.0},{"s":"0.7","n":7,"d":180.4},{"s":"0.7","n":10,"d":179.8},{"s":"0.7","n":13,"d":179.0},{"s":"0.7","n":16,"d":178.2},{"s":"0.7","n":19,"d":177.3},{"s":"0.7","n":22,"d":176.6},{"s":"0.7","n":25,"d":175.9},{"s":"0.7","n":28,"d":175.0},{"s":"0.7","n":31,"d":174.2},{"s":"0.7","n":34,"d":173.5},{"s":"0.7","n":37,"d":172.6},{"s":"0.7","n":40,"d":171.8},{"s":"0.7","n":43,"d":171.0},{"s":"0.7","n":46,"d":170.2},{"s":"0.7","n":49,"d":169.5},{"s":"0.7","n":52,"d":168.8},{"s":"0.7","n":55,"d":168.1},{"s":"0.7","n":58,"d":167.4},{"s":"0.7","n":61,"d":166.8},{"s":"0.7","n":64,"d":166.2},{"s":"0.7","n":67,"d":165.6},{"s":"0.7","n":70,"d":165.0},{"s":"0.7","n":73,"d":164.5},{"s":"0.7","n":76,"d":164.0},{"s":"0.7","n":79,"d":163.4},{"s":"0.7","n":82,"d":163.0},{"s":"0.7","n":85,"d":162.4},{"s":"0.7","n":88,"d":161.8},{"s":"0.7","n":91,"d":161.2},{"s":"0.7","n":94,"d":160.6},{"s":"0.7","n":97,"d":160.0},{"s":"0.7","n":100,"d":159.3},
  {"s":"0.8","n":1,"d":192.0},{"s":"0.8","n":4,"d":190.2},{"s":"0.8","n":7,"d":189.3},{"s":"0.8","n":10,"d":188.6},{"s":"0.8","n":13,"d":187.4},{"s":"0.8","n":16,"d":186.4},{"s":"0.8","n":19,"d":185.4},{"s":"0.8","n":22,"d":184.3},{"s":"0.8","n":25,"d":183.5},{"s":"0.8","n":28,"d":182.4},{"s":"0.8","n":31,"d":181.6},{"s":"0.8","n":34,"d":180.4},{"s":"0.8","n":37,"d":179.4},{"s":"0.8","n":40,"d":178.5},{"s":"0.8","n":43,"d":177.3},{"s":"0.8","n":46,"d":176.4},{"s":"0.8","n":49,"d":175.4},{"s":"0.8","n":52,"d":174.3},{"s":"0.8","n":55,"d":173.4},{"s":"0.8","n":58,"d":172.4},{"s":"0.8","n":61,"d":171.2},{"s":"0.8","n":64,"d":170.3},{"s":"0.8","n":67,"d":169.4},{"s":"0.8","n":70,"d":168.2},{"s":"0.8","n":73,"d":167.4},{"s":"0.8","n":76,"d":166.1},{"s":"0.8","n":79,"d":165.2},{"s":"0.8","n":82,"d":164.0},{"s":"0.8","n":85,"d":163.0},{"s":"0.8","n":88,"d":161.6},{"s":"0.8","n":91,"d":160.4},{"s":"0.8","n":94,"d":158.8},{"s":"0.8","n":97,"d":157.2},{"s":"0.8","n":100,"d":155.5},
  {"s":"0.85","n":1,"d":197.5},{"s":"0.85","n":4,"d":195.6},{"s":"0.85","n":7,"d":193.4},{"s":"0.85","n":10,"d":191.5},{"s":"0.85","n":13,"d":189.6},{"s":"0.85","n":16,"d":187.3},{"s":"0.85","n":19,"d":185.5},{"s":"0.85","n":22,"d":183.4},{"s":"0.85","n":25,"d":181.6},{"s":"0.85","n":28,"d":179.4},{"s":"0.85","n":31,"d":177.5},{"s":"0.85","n":34,"d":175.6},{"s":"0.85","n":37,"d":173.3},{"s":"0.85","n":40,"d":171.6},{"s":"0.85","n":43,"d":169.4},{"s":"0.85","n":46,"d":167.7},{"s":"0.85","n":49,"d":165.4},{"s":"0.85","n":52,"d":163.7},{"s":"0.85","n":55,"d":161.5},{"s":"0.85","n":58,"d":159.7},{"s":"0.85","n":61,"d":157.5},{"s":"0.85","n":64,"d":155.8},{"s":"0.85","n":67,"d":153.6},{"s":"0.85","n":70,"d":151.5},{"s":"0.85","n":73,"d":149.8},{"s":"0.85","n":76,"d":147.6},{"s":"0.85","n":79,"d":145.9},{"s":"0.85","n":82,"d":143.6},{"s":"0.85","n":85,"d":141.9},{"s":"0.85","n":88,"d":139.7},{"s":"0.85","n":91,"d":137.9},{"s":"0.85","n":94,"d":135.8},{"s":"0.85","n":97,"d":134.0},{"s":"0.85","n":100,"d":132.0}
 ],
 "hl": [
  {"k":"vac","y":0,"x":0,"x2":208},{"k":"gray","y":0.7,"x":0,"x2":208},{"k":"gray","y":1.02,"x":43,"x2":200},{"k":"gray","y":4.4,"x":0,"x2":208},{"k":"gray","y":10.7,"x":0,"x2":208},
  {"k":"red","y":1.02,"x":21,"x2":43},{"k":"red","y":6.18,"x":126,"x2":176},{"k":"red","y":7.51,"x":126,"x2":176},
  {"k":"green","y":1.56,"x":51,"x2":105},{"k":"green","y":7.0,"x":51,"x2":105},
  {"k":"purple","y":0.7,"x":105,"x2":125},{"k":"purple","y":8.55,"x":105,"x2":125},
  {"k":"tick","y":0,"x":-3,"x2":0},{"k":"tick","y":0.7,"x":-3,"x2":0},{"k":"tick","y":4.4,"x":-3,"x2":0}
 ],
 "vl": [
  {"k":"lb","x":43,"y":-0.15,"y2":10.9},{"k":"lb","x":51,"y":-0.15,"y2":10.9},{"k":"lb","x":105,"y":-0.15,"y2":10.9},{"k":"lb","x":125,"y":-0.15,"y2":10.9},{"k":"ax","x":0,"y":0,"y2":10.9}
 ],
 "rc": [
  {"k":"sei","x":43,"x2":51,"y":-0.15,"y2":10.7},{"k":"alf","x":107,"x2":123,"y":0.7,"y2":8.55},{"k":"box","x":21,"x2":43,"y":1.02,"y2":1.48},{"k":"box","x":105,"x2":125,"y":8.55,"y2":9.59}
 ],
 "ar": [
  {"x":29,"y":1.15,"y2":2.5},{"x":29,"y":2.93,"y2":4.3},{"x":67.3,"y":1.7,"y2":3.28},{"x":67.3,"y":3.72,"y2":6.85},{"x":115.3,"y":0.85,"y2":3.5},{"x":115.3,"y":3.95,"y2":8.4},{"x":163,"y":1.15,"y2":2.85},{"x":163,"y":3.3,"y2":6.05}
 ],
 "ah": [
  {"x":29,"y":1.1,"d":"up"},{"x":29,"y":4.33,"d":"down"},{"x":67.3,"y":1.65,"d":"up"},{"x":67.3,"y":6.9,"d":"down"},{"x":115.3,"y":0.8,"d":"up"},{"x":115.3,"y":8.45,"d":"down"},{"x":163,"y":1.1,"d":"up"},{"x":163,"y":6.1,"d":"down"},{"x":0,"y":10.95,"d":"down"}
 ],
 "lobe": [
  {"k":"ni","x":126,"y":5.79,"y2":6.77},{"k":"ni","x":140,"y":5.92,"y2":6.55},{"k":"ni","x":155,"y":6.03,"y2":6.37},{"k":"ni","x":175,"y":6.16,"y2":6.18},
  {"k":"co","x":126,"y":7.14,"y2":7.89},{"k":"co","x":150,"y":7.33,"y2":7.7},{"k":"co","x":175,"y":7.5,"y2":7.53},
  {"k":"o","x":126,"y":7.95,"y2":9.59},{"k":"o","x":135,"y":8.0,"y2":9.59},{"k":"o","x":145,"y":8.3,"y2":9.59},{"k":"o","x":152,"y":8.85,"y2":9.59},{"k":"o","x":156,"y":9.5,"y2":9.59}
 ],
 "mn": [
  {"x":126,"y":4.03},{"x":135,"y":4.07},{"x":145,"y":4.13},{"x":153,"y":4.23},{"x":145,"y":4.33},{"x":135,"y":4.38},{"x":126,"y":4.4}
 ],
 "oc": [
  {"x":136,"y":7.02},{"x":146,"y":7.25},{"x":153,"y":7.76},{"x":157,"y":8.3},{"x":160,"y":8.95}
 ],
 "tx": [
  {"x":14,"y":0.89,"t":"μA"},{"x":14,"y":1.25,"t":"Li⁺/Li"},{"x":29,"y":2.71,"t":"3.04"},{"x":14,"y":4.21,"t":"SHE"},
  {"x":85,"y":1.85,"t":"LUMO"},{"x":67,"y":3.49,"t":"Eg=3.5"},{"x":83,"y":6.57,"t":"HOMO"},
  {"x":115,"y":0.34,"t":"CB"},{"x":115,"y":3.71,"t":"Eg=10.8"},{"x":115,"y":9.0,"t":"VB"},
  {"x":166,"y":3.07,"t":"V⁰=3.6"},{"x":143,"y":3.83,"t":"Mn³⁺/⁴⁺"},{"x":146,"y":5.36,"t":"Ni²⁺/⁴⁺"},{"x":184,"y":6.03,"t":"μC"},
  {"x":170,"y":6.99,"t":"Co³⁺/⁴⁺"},{"x":188,"y":7.44,"t":"μCo"},{"x":172,"y":8.76,"t":"O²⁻ : 2p⁶"},
  {"x":20,"y":9.94,"t":"Li anode"},{"x":47,"y":8.88,"t":"SEI"},{"x":77,"y":9.94,"t":"Electrolyte"},{"x":114,"y":10.15,"t":"AlF₃"},{"x":156,"y":9.94,"t":"NMC cathode"},
  {"x":151,"y":-0.45,"t":"vacuum level"},{"x":2,"y":3.7,"t":"//"}
 ],
 "hax": [
  {"x":-5,"y":0,"t":"0"},{"x":-5,"y":0.7,"t":"0.7"},{"x":-5,"y":4.4,"t":"4.4"}
 ],
 "fh": [
  {"x":3.459,"y":126,"t":"H1"},{"x":3.61,"y":557,"t":"H1+M"},{"x":3.783,"y":522,"t":"M"},{"x":4.05,"y":362,"t":"M+H2"},{"x":4.279,"y":434,"t":"H2+H3"},{"x":4.174,"y":291,"t":"H2"}
 ]
},
"concat": [
 {
  "width": 218, "height": 160,
  "layer": [
   {"data": {"name": "a"}, "mark": {"type": "line", "strokeWidth": 1.4},
    "encoding": {
     "x": {"field": "x", "type": "quantitative", "scale": {"domain": [-5, 237], "nice": false, "zero": false}, "axis": {"values": [0, 50, 100, 150, 200], "title": "Discharge capacity / mAhg⁻¹"}},
     "y": {"field": "y", "type": "quantitative", "scale": {"domain": [2.38, 4.57], "nice": false, "zero": false}, "axis": {"values": [2.5, 3.0, 3.5, 4.0, 4.5], "format": ".1f", "title": "Voltage / V", "titleFontSize": 12}},
     "color": {"field": "m", "type": "nominal", "scale": {"domain": ["0.85","0.8","0.7","0.6","0.5","1/3"], "range": ["#6e2a2a","#ff8a1c","#1fae1f","#4060e0","#f0283c","#111111"]},
      "legend": {"title": null, "orient": "none", "legendX": 15, "legendY": 72, "symbolType": "stroke", "symbolSize": 289, "symbolStrokeWidth": 1.8, "labelFontSize": 8, "clipHeight": 12.5, "rowPadding": 0, "labelOffset": 3,
       "labelExpr": "datum.label == '0.85' ? 'Li[Ni₀.₈₅Co₀.₀₇₅Mn₀.₀₇₅]O₂' : datum.label == '0.8' ? 'Li[Ni₀.₈Co₀.₁Mn₀.₁]O₂' : datum.label == '0.7' ? 'Li[Ni₀.₇₀Co₀.₁₅Mn₀.₁₅]O₂' : datum.label == '0.6' ? 'Li[Ni₀.₆Co₀.₂Mn₀.₂]O₂' : datum.label == '0.5' ? 'Li[Ni₀.₅Co₀.₂Mn₀.₃]O₂' : 'Li[Ni₁/₃Co₁/₃Mn₁/₃]O₂'"}},
     "detail": {"field": "b"},
     "order": {"value": null}
    }},
   {"data": {"values": [{}]}, "mark": {"type": "rect", "fill": "white", "stroke": "#999", "strokeWidth": 1},
    "encoding": {"x": {"datum": 61.6}, "x2": {"datum": 147}, "y": {"datum": 4.547}, "y2": {"datum": 4.365}}},
   {"data": {"values": [{}]}, "mark": {"type": "text", "fontSize": 9, "fontWeight": "bold"},
    "encoding": {"x": {"datum": 104.3}, "y": {"datum": 4.456}, "text": {"value": "3.0 - 4.3 V, 0.1C"}}},
   {"data": {"values": [{}]}, "mark": {"type": "text", "align": "left", "baseline": "bottom", "fontSize": 17, "fontWeight": "bold"},
    "encoding": {"x": {"datum": -64.9}, "y": {"datum": 4.433}, "text": {"value": "(a)"}}}
  ]
 },
 {
  "width": 218, "height": 160,
  "layer": [
   {"data": {"name": "b"}, "mark": {"type": "line", "strokeWidth": 1.3},
    "encoding": {
     "x": {"field": "v", "type": "quantitative", "scale": {"domain": [2.6, 4.4], "nice": false, "zero": false}, "axis": {"values": [2.8, 3.2, 3.6, 4.0, 4.4], "format": ".1f", "title": "Voltage / V"}},
     "y": {"field": "q", "type": "quantitative", "scale": {"domain": [-700, 1000], "nice": false, "zero": false}, "axis": {"values": [-500, 0, 500, 1000], "labelExpr": "'' + datum.value", "title": "Differential capacity / dQ dV⁻¹", "titleFontSize": 10.2}},
     "color": {"field": "c", "type": "nominal", "scale": {"domain": ["1st","20th","50th","100th"], "range": ["#000000","#ee2233","#3333cc","#22aa22"]},
      "legend": {"title": null, "orient": "none", "legendX": 14, "legendY": 34, "symbolType": "stroke", "symbolSize": 225, "symbolStrokeWidth": 2, "labelFontSize": 10, "clipHeight": 14.3, "rowPadding": 0, "labelOffset": 4, "labelExpr": "datum.label == '1st' ? '1ˢᵗ' : datum.label == '20th' ? '20ᵗʰ' : datum.label == '50th' ? '50ᵗʰ' : '100ᵗʰ'"}},
     "order": {"value": null}
    }},
   {"data": {"values": [{}]}, "mark": {"type": "text", "align": "left", "fontSize": 11.5, "fontWeight": "bold"}, "encoding": {"x": {"datum": 2.65}, "y": {"datum": 840}, "text": {"value": "Li[ Ni₁/₃Co₁/₃Mn₁/₃] O₂"}}},
   {"data": {"values": [{}]}, "mark": {"type": "text", "align": "right", "fontSize": 9, "fontWeight": "bold"}, "encoding": {"x": {"datum": 4.35}, "y": {"datum": 872}, "text": {"value": "3.0 - 4.3 V"}}},
   {"data": {"values": [{}]}, "mark": {"type": "rule", "strokeWidth": 2, "color": "#000"}, "encoding": {"x": {"datum": 4.29}, "y": {"datum": -150}, "x2": {"datum": 4.2}, "y2": {"datum": 25}}},
   {"data": {"values": [{}]}, "mark": {"type": "point", "shape": "triangle-up", "filled": true, "color": "#000", "size": 45, "angle": 326, "opacity": 1}, "encoding": {"x": {"datum": 4.2}, "y": {"datum": 25}}},
   {"data": {"values": [{}]}, "mark": {"type": "text", "align": "left", "baseline": "bottom", "fontSize": 17, "fontWeight": "bold"}, "encoding": {"x": {"datum": 2.0385}, "y": {"datum": 894}, "text": {"value": "(b)"}}}
  ]
 },
 {
  "width": 218, "height": 160,
  "layer": [
   {"data": {"name": "c"}, "mark": {"type": "line", "strokeWidth": 1.3},
    "encoding": {
     "x": {"field": "v", "type": "quantitative", "scale": {"domain": [2.6, 4.4], "nice": false, "zero": false}, "axis": {"values": [2.8, 3.2, 3.6, 4.0, 4.4], "format": ".1f", "title": "Voltage / V"}},
     "y": {"field": "q", "type": "quantitative", "scale": {"domain": [-700, 1000], "nice": false, "zero": false}, "axis": {"values": [-500, 0, 500, 1000], "labelExpr": "'' + datum.value", "title": "Differential capacity / dQ dV⁻¹", "titleFontSize": 10.2}},
     "color": {"field": "c", "type": "nominal", "scale": {"domain": ["1st","20th","50th","100th"], "range": ["#000000","#ee2233","#3333cc","#22aa22"]},
      "legend": {"title": null, "orient": "none", "legendX": 14, "legendY": 34, "symbolType": "stroke", "symbolSize": 225, "symbolStrokeWidth": 2, "labelFontSize": 10, "clipHeight": 14.3, "rowPadding": 0, "labelOffset": 4, "labelExpr": "datum.label == '1st' ? '1ˢᵗ' : datum.label == '20th' ? '20ᵗʰ' : datum.label == '50th' ? '50ᵗʰ' : '100ᵗʰ'"}},
     "order": {"value": null}
    }},
   {"data": {"values": [{}]}, "mark": {"type": "text", "align": "left", "fontSize": 11.5, "fontWeight": "bold"}, "encoding": {"x": {"datum": 2.65}, "y": {"datum": 840}, "text": {"value": "Li[ Ni₀.₅Co₀.₂Mn₀.₃] O₂"}}},
   {"data": {"values": [{}]}, "mark": {"type": "text", "align": "right", "fontSize": 9, "fontWeight": "bold"}, "encoding": {"x": {"datum": 4.35}, "y": {"datum": 872}, "text": {"value": "3.0 - 4.3 V"}}},
   {"data": {"values": [{}]}, "mark": {"type": "rule", "strokeWidth": 2, "color": "#000"}, "encoding": {"x": {"datum": 4.27}, "y": {"datum": -250}, "x2": {"datum": 4.17}, "y2": {"datum": 20}}},
   {"data": {"values": [{}]}, "mark": {"type": "point", "shape": "triangle-up", "filled": true, "color": "#000", "size": 45, "angle": 334, "opacity": 1}, "encoding": {"x": {"datum": 4.17}, "y": {"datum": 20}}},
   {"data": {"values": [{}]}, "mark": {"type": "text", "align": "left", "baseline": "bottom", "fontSize": 17, "fontWeight": "bold"}, "encoding": {"x": {"datum": 2.055}, "y": {"datum": 894}, "text": {"value": "(c)"}}}
  ]
 },
 {
  "width": 218, "height": 160,
  "layer": [
   {"data": {"name": "d"}, "mark": {"type": "line", "strokeWidth": 1.3},
    "encoding": {
     "x": {"field": "v", "type": "quantitative", "scale": {"domain": [2.6, 4.4], "nice": false, "zero": false}, "axis": {"values": [2.8, 3.2, 3.6, 4.0, 4.4], "format": ".1f", "title": "Voltage / V"}},
     "y": {"field": "q", "type": "quantitative", "scale": {"domain": [-700, 1000], "nice": false, "zero": false}, "axis": {"values": [-500, 0, 500, 1000], "labelExpr": "'' + datum.value", "title": "Differential capacity / dQ dV⁻¹", "titleFontSize": 10.2}},
     "color": {"field": "c", "type": "nominal", "scale": {"domain": ["1st","20th","50th","100th"], "range": ["#000000","#ee2233","#3333cc","#22aa22"]},
      "legend": {"title": null, "orient": "none", "legendX": 14, "legendY": 34, "symbolType": "stroke", "symbolSize": 225, "symbolStrokeWidth": 2, "labelFontSize": 10, "clipHeight": 14.3, "rowPadding": 0, "labelOffset": 4, "labelExpr": "datum.label == '1st' ? '1ˢᵗ' : datum.label == '20th' ? '20ᵗʰ' : datum.label == '50th' ? '50ᵗʰ' : '100ᵗʰ'"}},
     "order": {"value": null}
    }},
   {"data": {"values": [{}]}, "mark": {"type": "text", "align": "left", "fontSize": 11.5, "fontWeight": "bold"}, "encoding": {"x": {"datum": 2.65}, "y": {"datum": 840}, "text": {"value": "Li[ Ni₀.₆Co₀.₂Mn₀.₂] O₂"}}},
   {"data": {"values": [{}]}, "mark": {"type": "text", "align": "right", "fontSize": 9, "fontWeight": "bold"}, "encoding": {"x": {"datum": 4.35}, "y": {"datum": 872}, "text": {"value": "3.0 - 4.3 V"}}},
   {"data": {"values": [{}]}, "mark": {"type": "rule", "strokeWidth": 2, "color": "#000"}, "encoding": {"x": {"datum": 4.29}, "y": {"datum": -135}, "x2": {"datum": 4.2}, "y2": {"datum": 25}}},
   {"data": {"values": [{}]}, "mark": {"type": "point", "shape": "triangle-up", "filled": true, "color": "#000", "size": 45, "angle": 324, "opacity": 1}, "encoding": {"x": {"datum": 4.2}, "y": {"datum": 25}}},
   {"data": {"values": [{}]}, "mark": {"type": "text", "align": "left", "baseline": "bottom", "fontSize": 17, "fontWeight": "bold"}, "encoding": {"x": {"datum": 2.0385}, "y": {"datum": 915}, "text": {"value": "(d)"}}}
  ]
 },
 {
  "width": 218, "height": 160,
  "layer": [
   {"data": {"name": "e"}, "mark": {"type": "line", "strokeWidth": 1.3},
    "encoding": {
     "x": {"field": "v", "type": "quantitative", "scale": {"domain": [2.6, 4.4], "nice": false, "zero": false}, "axis": {"values": [2.8, 3.2, 3.6, 4.0, 4.4], "format": ".1f", "title": "Voltage / V"}},
     "y": {"field": "q", "type": "quantitative", "scale": {"domain": [-700, 1000], "nice": false, "zero": false}, "axis": {"values": [-500, 0, 500, 1000], "labelExpr": "'' + datum.value", "title": "Differential capacity / dQ dV⁻¹", "titleFontSize": 10.2}},
     "color": {"field": "c", "type": "nominal", "scale": {"domain": ["1st","20th","50th","100th"], "range": ["#000000","#ee2233","#3333cc","#22aa22"]},
      "legend": {"title": null, "orient": "none", "legendX": 14, "legendY": 33, "symbolType": "stroke", "symbolSize": 225, "symbolStrokeWidth": 2, "labelFontSize": 10, "clipHeight": 14.3, "rowPadding": 0, "labelOffset": 4, "labelExpr": "datum.label == '1st' ? '1ˢᵗ' : datum.label == '20th' ? '20ᵗʰ' : datum.label == '50th' ? '50ᵗʰ' : '100ᵗʰ'"}},
     "order": {"value": null}
    }},
   {"data": {"values": [{}]}, "mark": {"type": "text", "align": "left", "fontSize": 11.5, "fontWeight": "bold"}, "encoding": {"x": {"datum": 2.65}, "y": {"datum": 830}, "text": {"value": "Li[ Ni₀.₇Co₀.₁₅Mn₀.₁₅] O₂"}}},
   {"data": {"values": [{}]}, "mark": {"type": "text", "align": "right", "fontSize": 9, "fontWeight": "bold"}, "encoding": {"x": {"datum": 4.35}, "y": {"datum": 865}, "text": {"value": "3.0 - 4.3 V"}}},
   {"data": {"values": [{}]}, "mark": {"type": "rule", "strokeWidth": 2, "color": "#000"}, "encoding": {"x": {"datum": 4.24}, "y": {"datum": -170}, "x2": {"datum": 4.145}, "y2": {"datum": 15}}},
   {"data": {"values": [{}]}, "mark": {"type": "point", "shape": "triangle-up", "filled": true, "color": "#000", "size": 45, "angle": 326, "opacity": 1}, "encoding": {"x": {"datum": 4.145}, "y": {"datum": 15}}},
   {"data": {"values": [{}]}, "mark": {"type": "text", "align": "left", "baseline": "bottom", "fontSize": 17, "fontWeight": "bold"}, "encoding": {"x": {"datum": 2.055}, "y": {"datum": 894}, "text": {"value": "(e)"}}}
  ]
 },
 {
  "width": 218, "height": 160,
  "layer": [
   {"data": {"name": "f"}, "mark": {"type": "line", "strokeWidth": 1.3},
    "encoding": {
     "x": {"field": "v", "type": "quantitative", "scale": {"domain": [2.6, 4.4], "nice": false, "zero": false}, "axis": {"values": [2.8, 3.2, 3.6, 4.0, 4.4], "format": ".1f", "title": "Voltage / V"}},
     "y": {"field": "q", "type": "quantitative", "scale": {"domain": [-700, 1000], "nice": false, "zero": false}, "axis": {"values": [-500, 0, 500, 1000], "labelExpr": "'' + datum.value", "title": "Differential capacity / dQ dV⁻¹", "titleFontSize": 10.2}},
     "color": {"field": "c", "type": "nominal", "scale": {"domain": ["1st","20th","50th","100th"], "range": ["#000000","#ee2233","#3333cc","#22aa22"]},
      "legend": {"title": null, "orient": "none", "legendX": 14, "legendY": 35, "symbolType": "stroke", "symbolSize": 225, "symbolStrokeWidth": 2, "labelFontSize": 10, "clipHeight": 14.3, "rowPadding": 0, "labelOffset": 4, "labelExpr": "datum.label == '1st' ? '1ˢᵗ' : datum.label == '20th' ? '20ᵗʰ' : datum.label == '50th' ? '50ᵗʰ' : '100ᵗʰ'"}},
     "order": {"value": null}
    }},
   {"data": {"values": [{}]}, "mark": {"type": "text", "align": "left", "fontSize": 11.5, "fontWeight": "bold"}, "encoding": {"x": {"datum": 2.65}, "y": {"datum": 820}, "text": {"value": "Li[Ni₀.₈Co₀.₁Mn₀.₁]O₂"}}},
   {"data": {"values": [{}]}, "mark": {"type": "text", "align": "right", "fontSize": 9, "fontWeight": "bold"}, "encoding": {"x": {"datum": 4.35}, "y": {"datum": 862}, "text": {"value": "3.0 - 4.3 V"}}},
   {"data": {"name": "fh"}, "mark": {"type": "text", "fontSize": 9, "fontWeight": "bold"}, "encoding": {"x": {"field": "x", "type": "quantitative"}, "y": {"field": "y", "type": "quantitative"}, "text": {"field": "t"}}},
   {"data": {"values": [{}]}, "mark": {"type": "rule", "strokeWidth": 2, "color": "#000"}, "encoding": {"x": {"datum": 4.255}, "y": {"datum": -240}, "x2": {"datum": 4.14}, "y2": {"datum": 33}}},
   {"data": {"values": [{}]}, "mark": {"type": "point", "shape": "triangle-up", "filled": true, "color": "#000", "size": 45, "angle": 332, "opacity": 1}, "encoding": {"x": {"datum": 4.14}, "y": {"datum": 33}}},
   {"data": {"values": [{}]}, "mark": {"type": "text", "align": "left", "baseline": "bottom", "fontSize": 17, "fontWeight": "bold"}, "encoding": {"x": {"datum": 2.08}, "y": {"datum": 830}, "text": {"value": "(f)"}}}
  ]
 },
 {
  "width": 218, "height": 162,
  "layer": [
   {"data": {"name": "g"}, "mark": {"type": "point", "filled": false, "size": 65, "strokeWidth": 1, "opacity": 1},
    "encoding": {
     "x": {"field": "n", "type": "quantitative", "scale": {"domain": [-1, 101], "nice": false, "zero": false}, "axis": {"values": [0,10,20,30,40,50,60,70,80,90,100], "labelOverlap": false, "labelFontSize": 9, "title": "Number of cycle", "titlePadding": 1}},
     "y": {"field": "d", "type": "quantitative", "scale": {"domain": [92, 211], "nice": false, "zero": false}, "axis": {"values": [100,120,140,160,180,200], "title": "Discharge capacity / mAh g⁻¹", "titleFontSize": 11.5}},
     "color": {"field": "s", "type": "nominal", "scale": {"domain": ["0.85","0.8","0.7","0.6","0.5","1/3"], "range": ["#8c1e3c","#ffa238","#3ccf3c","#3a6fe0","#f03040","#333333"]},
      "legend": {"title": null, "orient": "none", "legendX": 10, "legendY": 98, "symbolSize": 45, "symbolStrokeWidth": 1.2, "labelFontSize": 9, "clipHeight": 9.5, "rowPadding": 0, "labelOffset": 8, "labelExpr": "'x=' + datum.label"}},
     "shape": {"field": "s", "type": "nominal", "scale": {"domain": ["0.85","0.8","0.7","0.6","0.5","1/3"], "range": ["triangle-left","triangle-up","triangle-down","triangle-up","circle","square"]},
      "legend": {"title": null, "orient": "none", "legendX": 10, "legendY": 98, "symbolSize": 45, "symbolStrokeWidth": 1.2, "labelFontSize": 9, "clipHeight": 9.5, "rowPadding": 0, "labelOffset": 8, "labelExpr": "'x=' + datum.label"}}
    }},
   {"data": {"values": [{}]}, "mark": {"type": "rect", "fill": "white", "stroke": "#999", "strokeWidth": 1},
    "encoding": {"x": {"datum": 65.4, "axis": {"values": [0,10,20,30,40,50,60,70,80,90,100], "labelOverlap": false, "labelFontSize": 9, "title": "Number of cycle", "titlePadding": 1}}, "x2": {"datum": 100.2}, "y": {"datum": 200.7, "axis": {"values": [100,120,140,160,180,200], "title": "Discharge capacity / mAh g⁻¹", "titleFontSize": 11.5}}, "y2": {"datum": 192.6}}},
   {"data": {"values": [{}]}, "mark": {"type": "text", "fontSize": 9, "fontWeight": "bold"},
    "encoding": {"x": {"datum": 82.8, "axis": {"values": [0,10,20,30,40,50,60,70,80,90,100], "labelOverlap": false, "labelFontSize": 9, "title": "Number of cycle", "titlePadding": 1}}, "y": {"datum": 196.6, "axis": {"values": [100,120,140,160,180,200], "title": "Discharge capacity / mAh g⁻¹", "titleFontSize": 11.5}}, "text": {"value": "3.0 - 4.3 V  0.5 C"}}},
   {"data": {"values": [{}]}, "mark": {"type": "text", "align": "left", "baseline": "bottom", "fontSize": 17, "fontWeight": "bold"},
    "encoding": {"x": {"datum": -29.5, "axis": {"values": [0,10,20,30,40,50,60,70,80,90,100], "labelOverlap": false, "labelFontSize": 9, "title": "Number of cycle", "titlePadding": 1}}, "y": {"datum": 219.1, "axis": {"values": [100,120,140,160,180,200], "title": "Discharge capacity / mAh g⁻¹", "titleFontSize": 11.5}}, "text": {"value": "(g)"}}}
  ]
 },
 {
  "width": 232, "height": 162,
  "view": {"stroke": null},
  "encoding": {
   "x": {"field": "x", "type": "quantitative", "scale": {"domain": [-24, 208], "nice": false, "zero": false}, "axis": null},
   "y": {"field": "y", "type": "quantitative", "scale": {"domain": [0, 0.7, 4.4, 11], "range": [-13, -1.3, 95, 184], "nice": false, "zero": false}, "axis": null}
  },
  "layer": [
   {"data": {"name": "rc"}, "mark": {"type": "rect"},
    "encoding": {"x2": {"field": "x2"}, "y2": {"field": "y2"},
     "color": {"field": "k", "type": "nominal", "scale": {"domain": ["vac","gray","red","green","purple","tick","sei","alf","box","lb","ax"], "range": ["#000000","#9a9a9a","#e8303a","#2a9d4a","#7030a0","#333333","#c9ced6","#fdf3c0","#dcb88f","#a9c9e3","#333333"]}, "legend": null}}},
   {"data": {"name": "vl"}, "mark": {"type": "rule", "strokeWidth": 1.2},
    "encoding": {"y2": {"field": "y2"},
     "color": {"field": "k", "type": "nominal", "scale": {"domain": ["vac","gray","red","green","purple","tick","sei","alf","box","lb","ax"], "range": ["#000000","#9a9a9a","#e8303a","#2a9d4a","#7030a0","#333333","#c9ced6","#fdf3c0","#dcb88f","#a9c9e3","#333333"]}, "legend": null}}},
   {"data": {"name": "lobe"}, "mark": {"type": "area", "orient": "vertical", "fill": "#b9dcd9", "stroke": "#7fb2b0", "strokeWidth": 0.6},
    "encoding": {"y2": {"field": "y2"}, "detail": {"field": "k"}}},
   {"data": {"name": "mn"}, "mark": {"type": "line", "color": "#222", "strokeWidth": 0.8},
    "encoding": {"order": {"value": null}}},
   {"data": {"name": "oc"}, "mark": {"type": "line", "color": "#1f2f6e", "strokeWidth": 0.9},
    "encoding": {"order": {"value": null}}},
   {"data": {"name": "hl"}, "mark": {"type": "rule"},
    "encoding": {"x2": {"field": "x2"},
     "color": {"field": "k", "type": "nominal", "scale": {"domain": ["vac","gray","red","green","purple","tick","sei","alf","box","lb","ax"], "range": ["#000000","#9a9a9a","#e8303a","#2a9d4a","#7030a0","#333333","#c9ced6","#fdf3c0","#dcb88f","#a9c9e3","#333333"]}, "legend": null},
     "strokeDash": {"field": "k", "type": "nominal", "scale": {"domain": ["vac","gray","red","green","purple","tick"], "range": [[2,2],[1.5,2],[4,2],[4,2],[4,2],[1,0]]}, "legend": null},
     "strokeWidth": {"field": "k", "type": "nominal", "scale": {"domain": ["vac","gray","red","green","purple","tick"], "range": [1,0.7,1.5,1.5,1.5,0.8]}, "legend": null}}},
   {"data": {"name": "ar"}, "mark": {"type": "rule", "color": "#666", "strokeWidth": 0.7},
    "encoding": {"y2": {"field": "y2"}}},
   {"data": {"name": "ah"}, "mark": {"type": "point", "filled": true, "color": "#111", "size": 12, "opacity": 1},
    "encoding": {"shape": {"field": "d", "type": "nominal", "scale": {"domain": ["up","down"], "range": ["triangle-up","triangle-down"]}, "legend": null}}},
   {"data": {"name": "tx"}, "mark": {"type": "text", "font": "Lato", "fontSize": 7.5, "color": "#333"},
    "encoding": {"text": {"field": "t"}}},
   {"data": {"name": "hax"}, "mark": {"type": "text", "font": "Lato", "fontSize": 8, "color": "#333", "align": "right"},
    "encoding": {"text": {"field": "t"}}},
   {"data": {"values": [{"x": -10, "y": 9.2, "t": "Energy (eV)"}]}, "mark": {"type": "text", "font": "Lato", "fontSize": 7.5, "color": "#333", "angle": 270},
    "encoding": {"text": {"field": "t"}}},
   {"data": {"values": [{"x": -84, "y": 0.827, "t": "(h)"}]}, "mark": {"type": "text", "align": "left", "baseline": "bottom", "fontSize": 17, "fontWeight": "bold"},
    "encoding": {"text": {"field": "t"}}}
  ]
 }
],
"columns": 2,
"spacing": {"row": 51, "column": 84},
"bounds": "flush",
"align": "each",
"resolve": {"scale": {"x": "independent", "y": "independent", "color": "independent", "shape": "independent", "strokeDash": "independent", "strokeWidth": "independent"}, "legend": {"color": "independent", "shape": "independent", "strokeDash": "independent", "strokeWidth": "independent"}}
}
